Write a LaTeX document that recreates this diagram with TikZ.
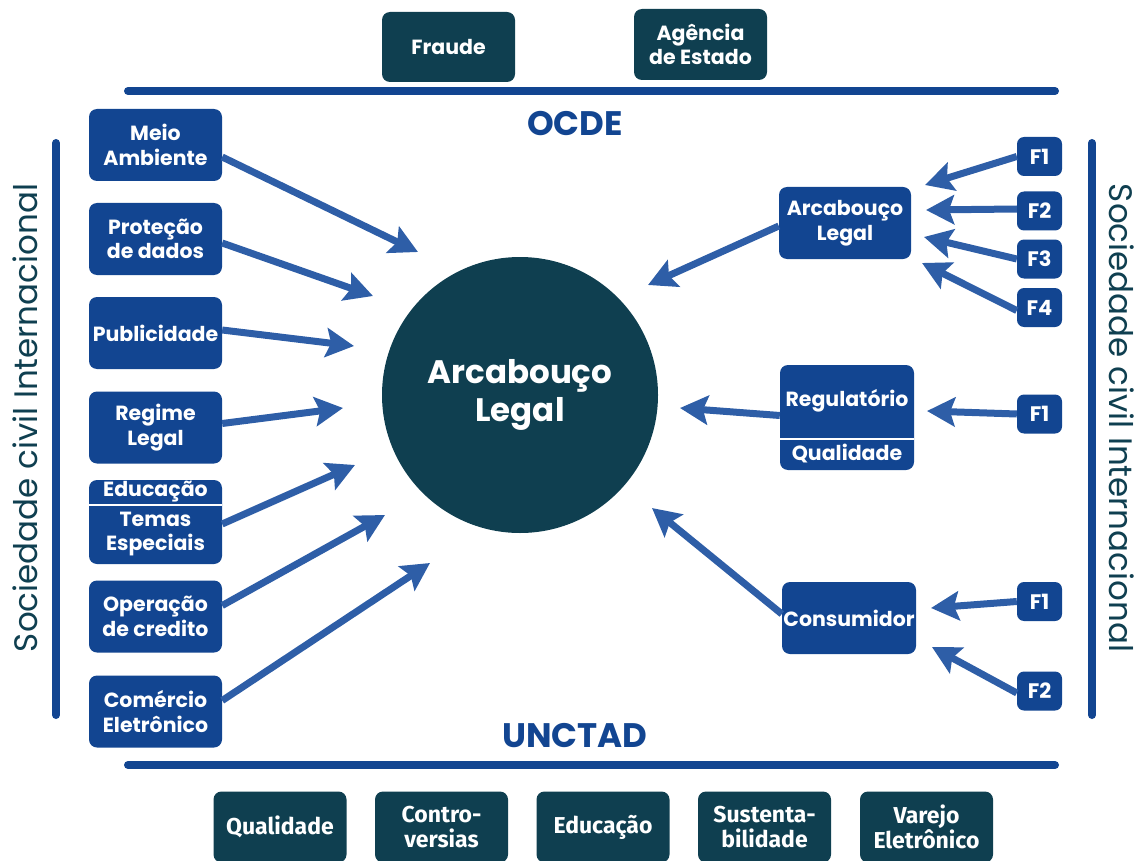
\documentclass[tikz,border=0pt]{standalone}
\usepackage{fontspec}
\setmainfont{Poppins}
\newfontfamily\narrowfont{Fira Sans}
\usetikzlibrary{arrows.meta}
\definecolor{deepteal}{HTML}{0F3F50}
\definecolor{boxblue}{HTML}{124591}
\definecolor{arrowblue}{HTML}{2E5EA7}
\begin{document}
\begin{tikzpicture}[x=1pt,y=-1pt,
  boxtext/.style={text=white, font=\bfseries\fontsize{20.5}{24.5}\selectfont, align=center, inner sep=0pt},
  bluebox/.style={boxtext, fill=boxblue, rounded corners=8pt, minimum width=133pt, minimum height=72pt},
  tealbox/.style={boxtext, fill=deepteal, rounded corners=8pt, minimum width=133pt, minimum height=71pt},
  lowbox/.style={tealbox, font=\narrowfont\bfseries\fontsize{23}{25}\selectfont},
  fbox/.style={boxtext, fill=boxblue, rounded corners=7pt, minimum width=45pt, minimum height=39pt, font=\bfseries\fontsize{21}{24}\selectfont},
  flow/.style={draw=arrowblue, line width=7pt, -{Stealth[length=28pt,width=29pt,inset=5pt]}},
  rule/.style={draw=boxblue, line width=8pt, line cap=round},
  heading/.style={text=boxblue, font=\bfseries\fontsize{34}{38}\selectfont, inner sep=0pt},
  sidetext/.style={text=deepteal, font=\fontsize{32.5}{36}\selectfont, inner sep=0pt}]
\useasboundingbox (0,0) rectangle (1143,861);

% frame rules
\coordinate (topL) at (128,91);   \coordinate (topR) at (1055,91);
\coordinate (botL) at (128,765);  \coordinate (botR) at (1055,765);
\coordinate (leftT) at (56,143);  \coordinate (leftB) at (56,715);
\coordinate (rightT) at (1092,143); \coordinate (rightB) at (1092,715);
\draw[rule] (topL) -- (topR);
\draw[rule] (botL) -- (botR);
\draw[rule] (leftT) -- (leftB);
\draw[rule] (rightT) -- (rightB);

% headings
\node[heading] (ocde) at (575,124) {OCDE};
\node[heading] (unctad) at (575,736) {UNCTAD};
\node[sidetext, rotate=90] (civL) at (25,418) {Sociedade civil Internacional};
\node[sidetext, rotate=-90] (civR) at (1122,418) {Sociedade civil Internacional};

% top boxes
\node[tealbox, minimum height=70pt] (fraude) at (448.5,47) {Fraude};
\node[tealbox] (agencia) at (700.5,44.5) {Agência\\de Estado};

% bottom boxes
\node[lowbox] (qual) at (280,827) {Qualidade};
\node[lowbox] (contro) at (441.5,827) {Contro-\\versias};
\node[lowbox] (educb) at (603,827) {Educação};
\node[lowbox] (sust) at (764.5,827) {Sustenta-\\bilidade};
\node[lowbox] (varejo) at (926.5,827) {Varejo\\Eletrônico};

% central circle
\node[circle, fill=deepteal, minimum size=276pt, inner sep=0pt] (core) at (520,395) {};
\node[text=white, font=\bfseries\fontsize{32.5}{38}\selectfont, align=center] (coretext) at (core) {Arcabouço\\Legal};

% left column
\node[bluebox] (meio) at (155.5,145) {Meio\\Ambiente};
\node[bluebox] (prot) at (155.5,239) {Proteção\\de dados};
\node[bluebox] (publ) at (155.5,333) {Publicidade};
\node[bluebox] (regime) at (155.5,427.5) {Regime\\Legal};
\node[bluebox, minimum height=84pt] (temas) at (155.5,522) {};
\draw[white, line width=2.5pt] (temas.west |- 0,505) -- (temas.east |- 0,505);
\node[boxtext] (educl) at (155.5,492) {Educação};
\node[boxtext] (temastext) at (155.5,534) {Temas\\Especiais};
\node[bluebox] (oper) at (155.5,616.5) {Operação\\de credito};
\node[bluebox] (comer) at (155.5,711.5) {Comércio\\Eletrônico};

% right column
\node[bluebox, minimum width=132pt] (arcab) at (845,223) {Arcabouço\\Legal};
\node[bluebox, minimum width=134pt, minimum height=105pt] (reg) at (847,417.5) {};
\draw[white, line width=2.5pt] (reg.west |- 0,439) -- (reg.east |- 0,439);
\node[boxtext] (regtext) at (847,401) {Regulatório};
\node[boxtext] (qualtext) at (847,454) {Qualidade};
\node[bluebox, minimum width=134pt] (cons) at (849,618) {Consumidor};

% factor boxes
\node[fbox] (a1) at (1039.5,156.5) {F1};
\node[fbox] (a2) at (1039.5,211) {F2};
\node[fbox] (a3) at (1039.5,259) {F3};
\node[fbox] (a4) at (1039.5,307.5) {F4};
\node[fbox] (r1) at (1039.5,414) {F1};
\node[fbox] (c1) at (1039.5,601.5) {F1};
\node[fbox] (c2) at (1039.5,691) {F2};

% arrow tips
\coordinate (tMeio) at (418,252);
\coordinate (tProt) at (373,296);
\coordinate (tPubl) at (354,346);
\coordinate (tRegime) at (343,408);
\coordinate (tTemas) at (355,465);
\coordinate (tOper) at (385,515);
\coordinate (tComer) at (430,563);
\coordinate (tArcab) at (648,285);
\coordinate (tReg) at (680,408);
\coordinate (tCons) at (652,508);
\coordinate (tA1) at (925,185);
\coordinate (tA2) at (926,210);
\coordinate (tA3) at (924,237);
\coordinate (tA4) at (922,263);
\coordinate (tR1) at (927,411);
\coordinate (tC1) at (931,608);
\coordinate (tC2) at (932,647);

% arrows into the circle
\draw[flow] ([yshift=-12pt]meio.east) -- (tMeio);
\draw[flow] ([yshift=-4pt]prot.east) -- (tProt);
\draw[flow] ([yshift=3pt]publ.east) -- (tPubl);
\draw[flow] ([yshift=4pt]regime.east) -- (tRegime);
\draw[flow] ([yshift=-2pt]temas.east) -- (tTemas);
\draw[flow] ([yshift=11pt]oper.east) -- (tOper);
\draw[flow] ([yshift=11pt]comer.east) -- (tComer);
\draw[flow] ([yshift=-3pt]arcab.west) -- (tArcab);
\draw[flow] ([yshift=2pt]reg.west) -- (tReg);
\draw[flow] ([yshift=4pt]cons.west) -- (tCons);

% arrows from the factor boxes
\draw[flow] (a1.west) -- (tA1);
\draw[flow] ([yshift=2pt]a2.west) -- (tA2);
\draw[flow] (a3.west) -- (tA3);
\draw[flow] ([yshift=-3pt]a4.west) -- (tA4);
\draw[flow] (r1.west) -- (tR1);
\draw[flow] (c1.west) -- (tC1);
\draw[flow] ([yshift=-2pt]c2.west) -- (tC2);
\end{tikzpicture}
\end{document}
